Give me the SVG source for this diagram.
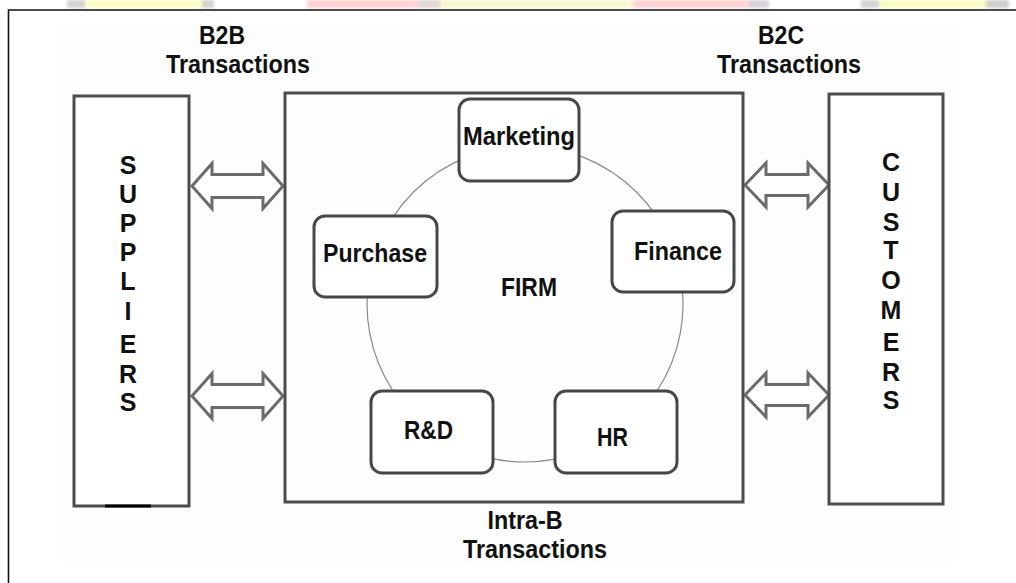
<svg xmlns="http://www.w3.org/2000/svg" width="1016" height="583" viewBox="0 0 1016 583">
  <defs>
    <filter id="soft" x="-5%" y="-50%" width="110%" height="200%">
      <feGaussianBlur stdDeviation="1.5"/>
    </filter>
    <style>
      .frame { fill: none; stroke: #111; stroke-width: 1.6; }
      .box { fill: #fff; stroke: #4d4d4d; stroke-width: 3; }
      .dept { fill: #fff; stroke: #474747; stroke-width: 3; }
      .ring { fill: none; stroke: #8a8a8a; stroke-width: 1.2; }
      .arrow { fill: #fff; stroke: #6b6b6b; stroke-width: 3; stroke-linejoin: miter; }
      text { font-family: "Liberation Sans", Arial, sans-serif; font-weight: bold; fill: #111; font-size: 25px; text-anchor: middle; }
    </style>
  </defs>

  <!-- page background -->
  <rect x="0" y="0" width="1016" height="583" fill="#fff"/>

  <!-- faint banner strip above the frame -->
  <g filter="url(#soft)">
    <rect x="67" y="0" width="18" height="8" fill="#d2d2d2"/>
    <rect x="85" y="0" width="118" height="8" fill="#fbfbc6"/>
    <rect x="202" y="0" width="12" height="8" fill="#d2d2d2"/>
    <rect x="307" y="0" width="110" height="8" fill="#ffd3d3"/>
    <rect x="417" y="0" width="23" height="8" fill="#e2d6d6"/>
    <rect x="440" y="0" width="193" height="8" fill="#f8f8d2"/>
    <rect x="633" y="0" width="116" height="8" fill="#ffd3d3"/>
    <rect x="749" y="0" width="20" height="8" fill="#d8d2d8"/>
    <rect x="861" y="0" width="18" height="8" fill="#d4d4d4"/>
    <rect x="879" y="0" width="107" height="8" fill="#fbfbc6"/>
    <rect x="986" y="0" width="23" height="8" fill="#cfcfcf"/>
  </g>

  <!-- outer frame (top and left edges) -->
  <path class="frame" d="M8.5,583 L8.5,10 L1016,10"/>

  <!-- drawing area -->
  <rect x="62" y="24" width="891" height="539" fill="#fdfdfd"/>

  <!-- connectors: ring between departments and the transaction arrows -->
  <g id="connectors">
    <circle class="ring" cx="525" cy="304" r="158"/>
    <path class="arrow" d="M192,186 L212,163.5 L212,174.5 L263,174.5 L263,163.5 L283,186 L263,208.5 L263,197.5 L212,197.5 L212,208.5 Z"/>
    <path class="arrow" d="M192,396 L212,373.5 L212,384.5 L263,384.5 L263,373.5 L283,396 L263,418.5 L263,407.5 L212,407.5 L212,418.5 Z"/>
    <path class="arrow" d="M745,185 L766,163 L766,174.5 L808,174.5 L808,163 L829,185 L808,207 L808,195.5 L766,195.5 L766,207 Z"/>
    <path class="arrow" d="M745,395 L766,373 L766,384.5 L808,384.5 L808,373 L829,395 L808,417 L808,405.5 L766,405.5 L766,417 Z"/>
  </g>

  <!-- suppliers -->
  <g id="suppliers">
    <rect class="box" x="74" y="96" width="115" height="410"/>
    <line x1="105" y1="506" x2="151" y2="506" stroke="#000" stroke-width="3"/>
    <text x="128" y="174">S</text>
    <text x="128" y="203">U</text>
    <text x="128" y="232">P</text>
    <text x="128" y="261">P</text>
    <text x="128" y="290">L</text>
    <text x="128" y="320">I</text>
    <text x="128" y="353">E</text>
    <text x="128" y="383">R</text>
    <text x="128" y="411">S</text>
  </g>

  <!-- firm -->
  <g id="firm">
    <rect class="box" x="285" y="93" width="458" height="409" style="fill:none"/>
    <text x="529" y="296" textLength="56" lengthAdjust="spacingAndGlyphs">FIRM</text>
  </g>

  <!-- customers -->
  <g id="customers">
    <rect class="box" x="829" y="94" width="114" height="410"/>
    <text x="891" y="171">C</text>
    <text x="891" y="201">U</text>
    <text x="891" y="231">S</text>
    <text x="891" y="259">T</text>
    <text x="891" y="289">O</text>
    <text x="891" y="319">M</text>
    <text x="891" y="351">E</text>
    <text x="891" y="381">R</text>
    <text x="891" y="409">S</text>
  </g>

  <!-- departments -->
  <g id="marketing">
    <rect class="dept" x="459" y="99" width="120" height="82" rx="11"/>
    <text x="519" y="145" textLength="112" lengthAdjust="spacingAndGlyphs">Marketing</text>
  </g>
  <g id="purchase">
    <rect class="dept" x="314" y="216" width="123" height="81" rx="11"/>
    <text x="375" y="262" textLength="104" lengthAdjust="spacingAndGlyphs">Purchase</text>
  </g>
  <g id="finance">
    <rect class="dept" x="612" y="211" width="122" height="81" rx="11"/>
    <text x="678" y="260" textLength="88" lengthAdjust="spacingAndGlyphs">Finance</text>
  </g>
  <g id="rnd">
    <rect class="dept" x="371" y="391" width="122" height="82" rx="11"/>
    <text x="428.5" y="439" textLength="49" lengthAdjust="spacingAndGlyphs">R&amp;D</text>
  </g>
  <g id="hr">
    <rect class="dept" x="555" y="391" width="122" height="82" rx="11"/>
    <text x="612.5" y="446" textLength="31" lengthAdjust="spacingAndGlyphs">HR</text>
  </g>

  <!-- transaction labels -->
  <g id="labels">
    <text x="222" y="44" textLength="46" lengthAdjust="spacingAndGlyphs">B2B</text>
    <text x="238" y="73" textLength="144" lengthAdjust="spacingAndGlyphs">Transactions</text>
    <text x="781" y="44" textLength="46" lengthAdjust="spacingAndGlyphs">B2C</text>
    <text x="789" y="73" textLength="144" lengthAdjust="spacingAndGlyphs">Transactions</text>
    <text x="525" y="529" textLength="75" lengthAdjust="spacingAndGlyphs">Intra-B</text>
    <text x="535" y="558" textLength="144" lengthAdjust="spacingAndGlyphs">Transactions</text>
  </g>
</svg>
